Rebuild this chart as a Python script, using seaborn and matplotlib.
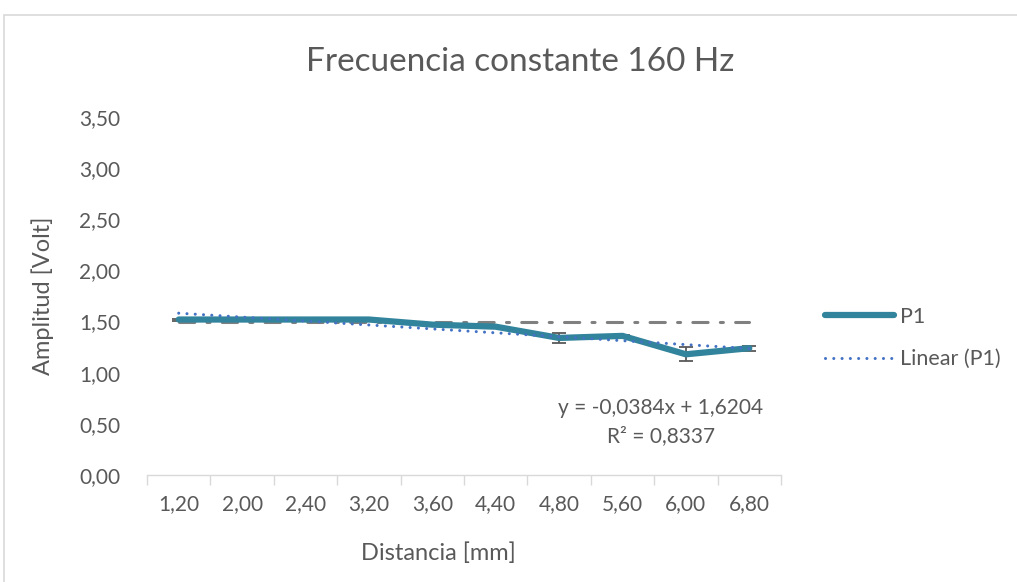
import matplotlib
matplotlib.use("Agg")
import matplotlib.pyplot as plt
import seaborn as sns
import pandas as pd
import numpy as np
from matplotlib.patches import Rectangle
from matplotlib.lines import Line2D

# ---- data ----
categories = ["1,20", "2,00", "2,40", "3,20", "3,60", "4,40", "4,80", "5,60", "6,00", "6,80"]
p1_values = [1.52, 1.52, 1.52, 1.52, 1.47, 1.45, 1.34, 1.36, 1.18, 1.24]
p1_errors = [0.01, 0.01, 0.01, 0.01, 0.01, 0.01, 0.045, 0.01, 0.07, 0.025]
reference_level = [1.5] * len(categories)
trend_slope = -0.0384
trend_intercept = 1.6204
yticks = [0.0, 0.5, 1.0, 1.5, 2.0, 2.5, 3.0, 3.5]

title = "Frecuencia constante 160 Hz"
xlabel = "Distancia [mm]"
ylabel = "Amplitud [Volt]"
eq_text = "y = -0,0384x + 1,6204\nR² = 0,8337"

# ---- styles ----
sns.set_theme(style="white")
plt.rcParams["font.family"] = ["Lato", "DejaVu Sans"]
txt = "#595959"
teal = "#31849B"
blue = "#4472C4"
grey = "#808080"

fig = plt.figure(figsize=(10.17, 5.82), dpi=100)
ax = fig.add_axes([147 / 1017, 1 - 475 / 582, (781 - 147) / 1017, (475 - 117) / 582])

idx = np.arange(len(categories))
trend_vals = trend_intercept + trend_slope * (idx + 1)
df = pd.DataFrame({"x": idx, "p1": p1_values, "ref": reference_level, "trend": trend_vals})

# reference constant line (dash-dot grey)
sns.lineplot(data=df, x="x", y="ref", ax=ax, color=grey, linewidth=2.2,
             linestyle=(0, (5, 4, 1, 4)), dash_capstyle="round", legend=False, zorder=2)
# error bars
ax.errorbar(idx, p1_values, yerr=p1_errors, fmt="none", ecolor="#595959",
            elinewidth=1.3, capsize=5, capthick=1.3, zorder=3)
# main series
sns.lineplot(data=df, x="x", y="p1", ax=ax, color=teal, linewidth=4.5,
             solid_capstyle="round", solid_joinstyle="round", legend=False, zorder=4)
# linear trend (dotted)
sns.lineplot(data=df, x="x", y="trend", ax=ax, color=blue, linewidth=2.2,
             linestyle=(0, (0.01, 2.7)), dash_capstyle="round", legend=False, zorder=5)

ax.set_xlim(-0.5, len(categories) - 0.5)
ax.set_ylim(0, 3.5)
ax.set_yticks(yticks)
ax.set_yticklabels([f"{v:.2f}".replace(".", ",") for v in yticks])
ax.set_xticks(idx)
ax.set_xticklabels(categories)
ax.set_xticks(np.arange(-0.5, len(categories), 1.0), minor=True)
ax.tick_params(axis="x", which="major", length=0, pad=14, labelsize=15, labelcolor=txt)
ax.tick_params(axis="x", which="minor", length=7, width=1, color="#d9d9d9", bottom=True)
ax.tick_params(axis="y", length=0, pad=19, labelsize=15, labelcolor=txt)
for s in ["top", "right", "left"]:
    ax.spines[s].set_visible(False)
ax.spines["bottom"].set_color("#d9d9d9")
ax.spines["bottom"].set_linewidth(1)
ax.grid(False)

ax.set_xlabel("")
ax.set_ylabel(ylabel, fontsize=17, color=txt, labelpad=18)
fig.text(438 / 1017, 1 - 553 / 582, xlabel, ha="center", va="center", fontsize=17, color=txt)

fig.text(520 / 1017, 1 - 62 / 582, title, ha="center", va="center", fontsize=24, color=txt)

fig.text(661 / 1017, 1 - 422 / 582, eq_text, ha="center", va="center",
         fontsize=15, color=txt, linespacing=1.45)

handles = [Line2D([], [], color=teal, linewidth=4.5, solid_capstyle="round"),
           Line2D([], [], color=blue, linewidth=2.2, linestyle=(0, (0.01, 2.7)), dash_capstyle="round")]
fig.legend(handles, ["P1", "Linear (P1)"], loc="center left",
           bbox_to_anchor=(806 / 1017, 1 - 338 / 582), frameon=False,
           fontsize=15.5, labelcolor=txt, handlelength=3.2, handletextpad=0.25,
           labelspacing=1.05)

# chart frame
fig.patches.append(Rectangle((4 / 1017, -0.05), 1.1, 1 - 15 / 582 + 0.05,
                             transform=fig.transFigure, fill=False,
                             edgecolor="#d9d9d9", linewidth=1.2))

fig.savefig("out.png", dpi=100)
